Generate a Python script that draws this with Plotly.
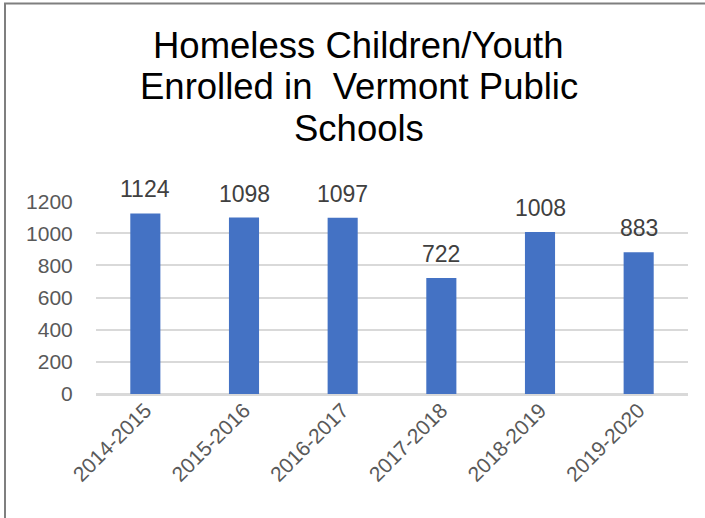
import plotly.graph_objects as go

# School years and number of homeless children/youth enrolled
years = ["2014-2015", "2015-2016", "2016-2017", "2017-2018", "2018-2019", "2019-2020"]
enrolled = [1124, 1098, 1097, 722, 1008, 883]
y_ticks = [0, 200, 400, 600, 800, 1000, 1200]
title_lines = ["Homeless Children/Youth", "Enrolled in  Vermont Public", "Schools"]

W, H = 705, 518
ML, MR, MT, MB = 96, 17, 200.7, 123.7
PW, PH = W - ML - MR, H - MT - MB
Y_MAX = 1200


def px_x(px):
    return (px - ML) / PW


def px_y(py):
    return (H - MB - py) / PH


fig = go.Figure(
    go.Bar(
        x=years,
        y=enrolled,
        marker=dict(color="#4472C4", line=dict(width=0)),
        hoverinfo="x+y",
    )
)

# value labels above each bar
for yr, v in zip(years, enrolled):
    fig.add_annotation(
        x=yr, y=v, xref="x", yref="y",
        text=str(v), showarrow=False,
        yanchor="bottom", yshift=9,
        font=dict(family="Liberation Sans, Arial", size=23, color="#404040"),
    )

# three-line title
for i, line in enumerate(title_lines):
    baseline = 57.3 + 42 * i
    fig.add_annotation(
        x=px_x(358.5), y=px_y(baseline - 13), xref="paper", yref="paper",
        text=line, showarrow=False, xanchor="center", yanchor="middle",
        font=dict(family="Liberation Sans, Arial", size=36.5, color="#000000"),
    )

# chart frame
fig.add_shape(
    type="rect", xref="paper", yref="paper",
    x0=px_x(5), x1=px_x(W + 10), y0=px_y(H + 10), y1=px_y(2.5),
    line=dict(color="#7f7f7f", width=2), fillcolor="rgba(0,0,0,0)", layer="above",
)

fig.update_layout(
    width=W, height=H,
    margin=dict(l=ML, r=MR, t=MT, b=MB, pad=0),
    paper_bgcolor="white", plot_bgcolor="white",
    bargap=0.695,
    showlegend=False,
    font=dict(family="Liberation Sans, Arial", color="#595959"),
    xaxis=dict(
        type="category",
        tickangle=-45,
        tickfont=dict(size=21, color="#595959"),
        showgrid=False,
        showline=True, linecolor="#d9d9d9", linewidth=1.5,
        ticks="", ticklen=0,
        ticklabelstandoff=-6,
        fixedrange=True,
    ),
    yaxis=dict(
        range=[0, Y_MAX * 1.001],
        tickvals=y_ticks,
        tickfont=dict(size=21, color="#595959"),
        showgrid=True, gridcolor="#d9d9d9", gridwidth=1.5,
        zeroline=True, zerolinecolor="#d9d9d9", zerolinewidth=1.5,
        ticks="outside", ticklen=18, tickcolor="rgba(0,0,0,0)",
        fixedrange=True,
    ),
)

fig.write_html("out.html")
